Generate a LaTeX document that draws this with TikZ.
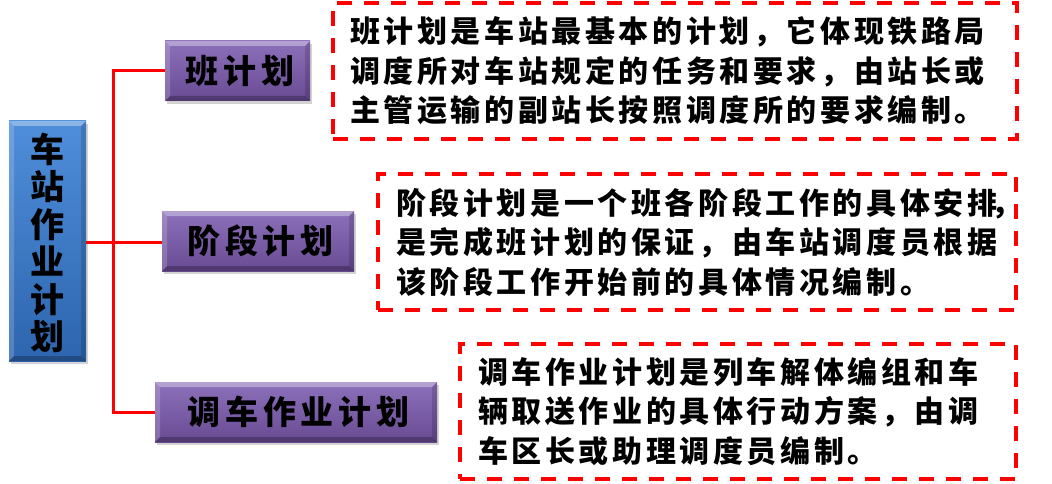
\documentclass[tikz,border=0pt]{standalone}
\usepackage{fontspec}
\usetikzlibrary{shadows}
\newfontfamily\cjkT[LetterSpace=12]{Noto Sans CJK SC}
\newfontfamily\cjkP[LetterSpace=15]{Noto Sans CJK SC}
\newfontfamily\cjkV{Noto Sans CJK SC}
\definecolor{bluetop}{HTML}{4F8EDB}
\definecolor{bluebot}{HTML}{2D65AE}
\definecolor{purtop}{HTML}{8C70BA}
\definecolor{purbot}{HTML}{684B93}
\definecolor{lred}{HTML}{FF0000}
\tikzset{
  bevel/.style={path picture={
    \fill[white,opacity=0.35] (path picture bounding box.north west) -- (path picture bounding box.north east)
       -- ([xshift=-5pt,yshift=-5pt]path picture bounding box.north east) -- ([xshift=5pt,yshift=-5pt]path picture bounding box.north west) -- cycle;
    \fill[white,opacity=0.18] (path picture bounding box.north west) -- ([xshift=5pt,yshift=-5pt]path picture bounding box.north west)
       -- ([xshift=5pt,yshift=5pt]path picture bounding box.south west) -- (path picture bounding box.south west) -- cycle;
    \fill[black,opacity=0.25] (path picture bounding box.south west) -- (path picture bounding box.south east)
       -- ([xshift=-5pt,yshift=5pt]path picture bounding box.south east) -- ([xshift=5pt,yshift=5pt]path picture bounding box.south west) -- cycle;
    \fill[black,opacity=0.15] (path picture bounding box.north east) -- ([xshift=-5pt,yshift=-5pt]path picture bounding box.north east)
       -- ([xshift=-5pt,yshift=5pt]path picture bounding box.south east) -- (path picture bounding box.south east) -- cycle;
  }},
  bluebox/.style={bevel, top color=bluetop, bottom color=bluebot, inner sep=0pt,
     drop shadow={shadow xshift=2pt, shadow yshift=-3pt, opacity=0.35}},
  purbox/.style={bevel, top color=purtop, bottom color=purbot, inner sep=0pt,
     minimum height=60pt, drop shadow={shadow xshift=2pt, shadow yshift=-3pt, opacity=0.35},
     font=\cjkP\bfseries\fontsize{33}{36}\selectfont},
  dbox/.style={draw=lred, line width=4pt, dash pattern=on 15pt off 12pt, inner sep=0pt},
  dtext/.style={anchor=west, align=left, inner sep=0pt, font=\cjkT\bfseries\fontsize{30}{39.5}\selectfont},
  conn/.style={draw=lred, line width=3pt}
}
\begin{document}
\begin{tikzpicture}[x=1pt,y=-1pt]
\useasboundingbox (0,0) rectangle (1052,484);
% main blue box
\node[bluebox, minimum width=77pt, minimum height=240pt] (main) at (47.5,241) {};
\node[align=center, inner sep=0pt, font=\cjkV\bfseries\fontsize{34}{37.5}\selectfont] (maintext) at (47.5,243) {车\\站\\作\\业\\计\\划};
% purple boxes
\node[purbox, minimum width=145pt] (b1) at (237.5,71) {\hspace*{5pt}班计划};
\node[purbox, minimum width=192pt] (b2) at (258,241) {\hspace*{5pt}阶段计划};
\node[purbox, minimum width=282pt] (b3) at (296,412) {\hspace*{5pt}调车作业计划};
% connectors
\coordinate (j) at (113,242);
\draw[conn] (main.east |- j) -- (b2.west |- j);
\draw[conn] (j) |- (b1.west);
\draw[conn] (j) |- (b3.west);
% dashed description boxes
\node[dbox, minimum width=684pt, minimum height=136pt] (d1) at (675,71) {};
\node[dbox, minimum width=638pt, minimum height=136pt] (d2) at (697,242) {};
\node[dbox, minimum width=556pt, minimum height=135pt] (d3) at (738,411.5) {};
\node[dtext] (t1) at ([xshift=19pt]d1.west) {班计划是车站最基本的计划，它体现铁路局\\调度所对车站规定的任务和要求，由站长或\\主管运输的副站长按照调度所的要求编制。};
\node[dtext] (t2) at ([xshift=20pt]d2.west) {阶段计划是一个班各阶段工作的具体安排\kern-6pt，\\是完成班计划的保证，由车站调度员根据\\该阶段工作开始前的具体情况编制。};
\node[dtext] (t3) at ([xshift=20pt]d3.west) {调车作业计划是列车解体编组和车\\辆取送作业的具体行动方案，由调\\车区长或助理调度员编制。};
\end{tikzpicture}
\end{document}
